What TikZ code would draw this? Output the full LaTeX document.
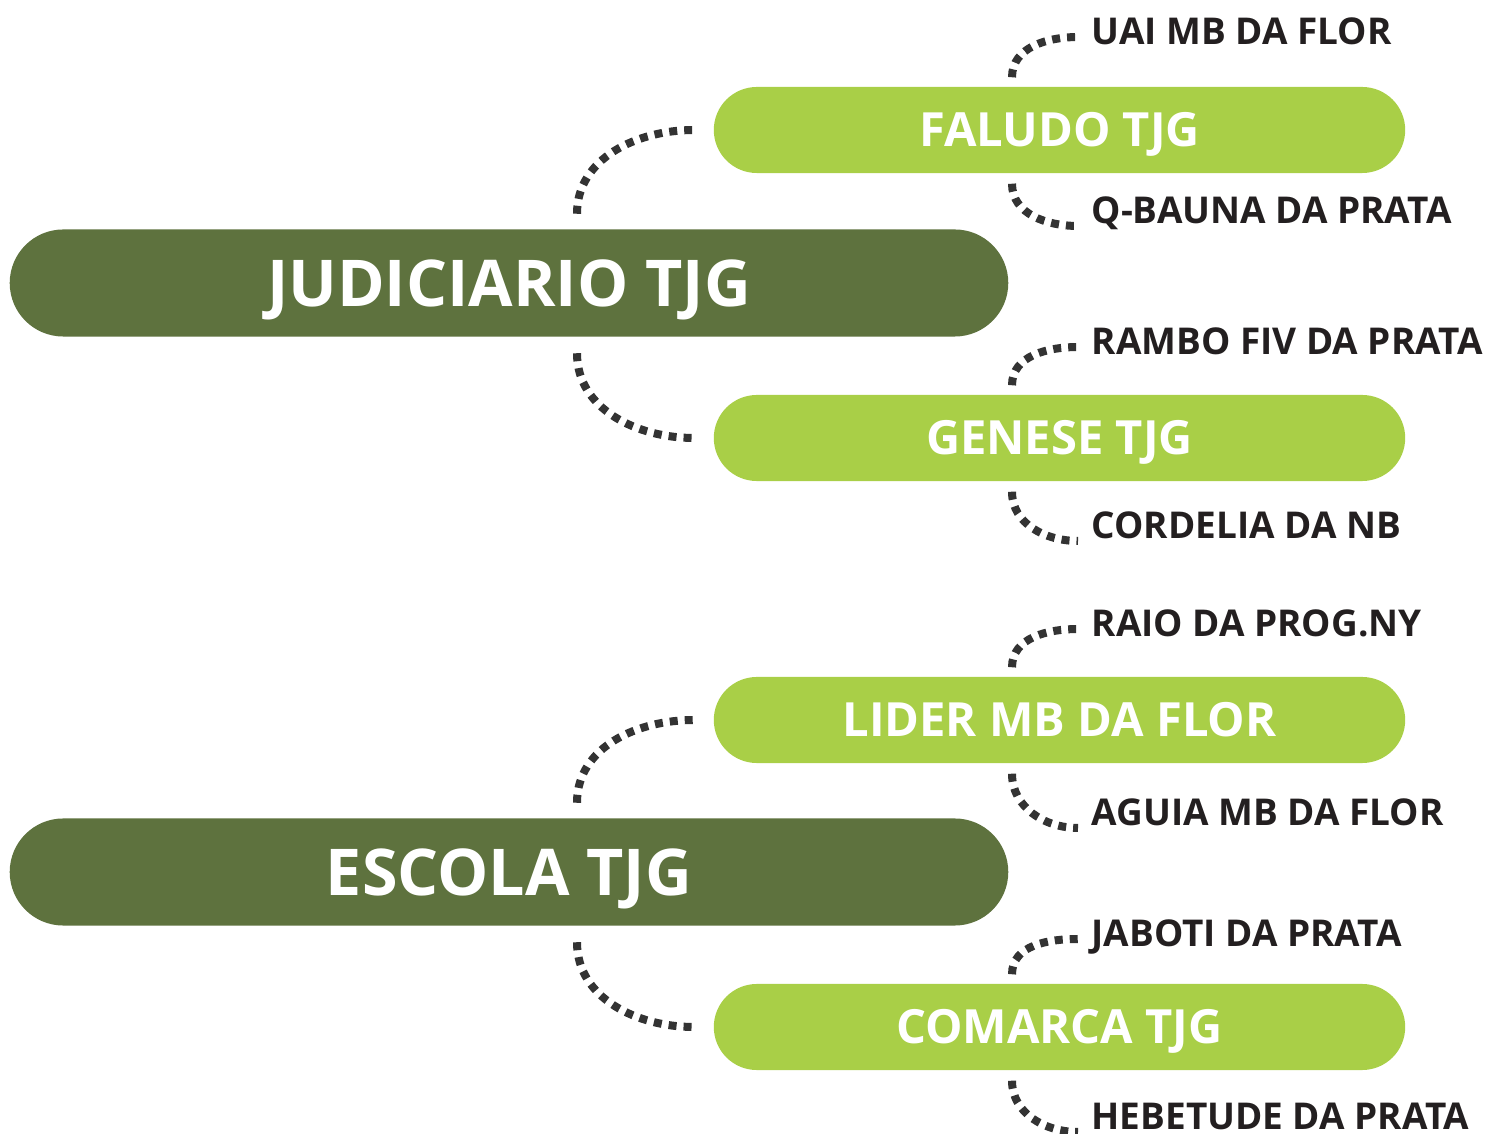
\documentclass[tikz,border=0pt]{standalone}
\usepackage{fontspec}
\setmainfont{Open Sans}
\usetikzlibrary{calc}

\definecolor{darkolive}{HTML}{5E723E}
\definecolor{limegreen}{HTML}{A9CF47}
\definecolor{leafgray}{HTML}{231F20}
\definecolor{dotgray}{HTML}{333333}

\tikzset{
  mainbox/.style={fill=darkolive, text=white, minimum width=9.98cm, minimum height=1.07cm,
    rounded corners=0.535cm, text height=13.1pt, text depth=0pt,
    font=\bfseries\fontsize{18.35}{22}\selectfont},
  subbox/.style={fill=limegreen, text=white, minimum width=6.91cm, minimum height=0.86cm,
    rounded corners=0.43cm, text height=9.55pt, text depth=0pt,
    font=\bfseries\fontsize{13.4}{15}\selectfont},
  leaf/.style={anchor=base west, inner sep=0pt, text=leafgray,
    font=\bfseries\fontsize{10.5}{12}\selectfont},
  link/.style={dotgray, line width=0.08cm, dash pattern=on 0.08cm off 0.07cm}
}

\begin{document}
\begin{tikzpicture}[x=0.01cm,y=-0.01cm]
      \useasboundingbox (0,0) rectangle (1490,1134);

      \node[mainbox] (judic) at (509,283) {JUDICIARIO TJG};
      \node[mainbox] (escola) at (509,872) {ESCOLA TJG};
      \foreach \name/\y/\txt in {faludo/130/FALUDO TJG, genese/438/GENESE TJG,
        lider/720/LIDER MB DA FLOR, comarca/1027/COMARCA TJG}
      \node[subbox] (\name) at (1059.5,\y) {\txt};

      \foreach \main/\up/\down in {judic/faludo/genese, escola/lider/comarca} {
        \draw[link] ($(\main.north)+(68,-15)$) to[out=90,in=180] ($(\up.west)+(-19,0)$);
        \draw[link] ($(\main.south)+(68,16)$) to[out=-90,in=180] ($(\down.west)+(-19,0)$);
      }

      \foreach \sub/\ya/\na/\ta/\yb/\nb/\tb in {
        faludo/45/uai/UAI MB DA FLOR/224/qbauna/Q-BAUNA DA PRATA,
        genese/355/rambo/RAMBO FIV DA PRATA/539/cordelia/CORDELIA DA NB,
        lider/637/raio/RAIO DA PROG.NY/826/aguia/AGUIA MB DA FLOR,
        comarca/947/jaboti/JABOTI DA PRATA/1130/hebetude/HEBETUDE DA PRATA} {
        \node[leaf] (\na) at (1091,\ya) {\ta};
        \node[leaf] (\nb) at (1091,\yb) {\tb};
        \draw[link] ($(\sub.north)+(-47.5,-9)$) to[out=90,in=180] ($(\na.base west)+(-13,-8)$);
        \draw[link] ($(\sub.south)+(-47.5,10)$) to[out=-90,in=180] ($(\nb.base west)+(-13,2)$);
      }
\end{tikzpicture}
\end{document}
